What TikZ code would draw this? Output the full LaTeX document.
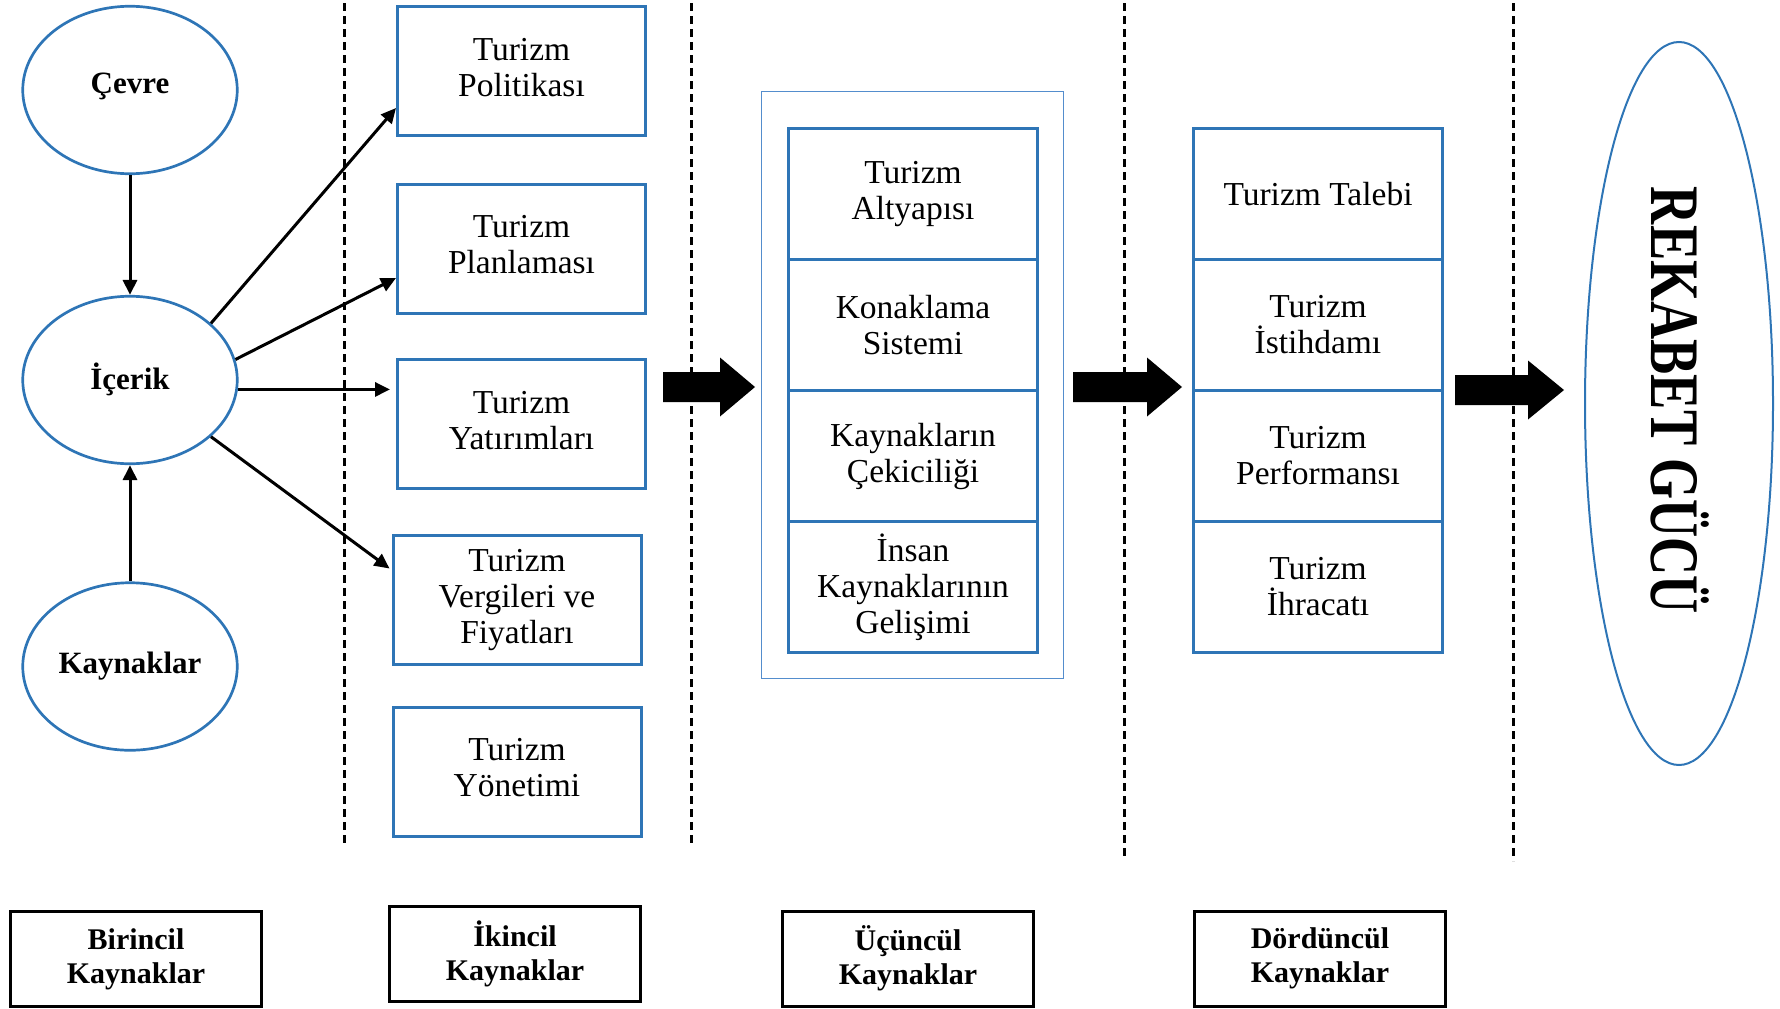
\documentclass[tikz,border=0pt]{standalone}
\usepackage{fontspec}
\usepackage{graphicx}
\setmainfont{Liberation Serif}
\usetikzlibrary{shapes.geometric,arrows.meta}
\definecolor{boxblue}{RGB}{46,117,182}
\definecolor{frameblue}{RGB}{84,141,205}
\begin{document}
\begin{tikzpicture}[x=1pt,y=-1pt,
  every node/.style={align=center, inner sep=0pt},
  txt/.style={font=\fontsize{33.5}{36}\selectfont},
  circ/.style={ellipse, draw=boxblue, line width=2.7pt, minimum width=214.5pt,
    minimum height=167.5pt, font=\fontsize{31}{34}\selectfont\bfseries},
  bluebox/.style={rectangle, draw=boxblue, line width=3pt, minimum width=248pt,
    minimum height=129pt, txt},
  cell/.style={rectangle, draw=boxblue, line width=3pt, minimum width=249.5pt,
    minimum height=131pt, txt},
  levelbox/.style={rectangle, draw=black, line width=3pt, minimum width=251pt,
    minimum height=95pt, font=\fontsize{30}{34}\selectfont\bfseries},
  sep/.style={line width=3pt, dash pattern=on 8pt off 5pt},
  link/.style={line width=3pt, -{Triangle[length=15pt,width=14pt]}},
]
\useasboundingbox (0,0) rectangle (1780,1009);

% column separators
\draw[sep] (344,3) -- (344,845);
\draw[sep] (691.5,3) -- (691.5,845);
\draw[sep] (1124.5,3) -- (1124.5,857);
\draw[sep] (1513.5,3) -- (1513.5,861);

% primary resources
\node[circ] (cevre) at (130,90) {\raisebox{14pt}{Çevre}};
\node[circ] (icerik) at (130,380) {\raisebox{8pt}{İçerik}};
\node[circ] (kay) at (130,666.5) {Kaynaklar};

% secondary resources
\node[bluebox] (pol) at (521.5,71) {\raisebox{7pt}{\begin{tabular}{@{}c@{}}Turizm\\Politikası\end{tabular}}};
\node[bluebox] (plan) at (521.5,248.5) {\raisebox{7pt}{\begin{tabular}{@{}c@{}}Turizm\\Planlaması\end{tabular}}};
\node[bluebox] (yat) at (521.5,424) {\raisebox{7pt}{\begin{tabular}{@{}c@{}}Turizm\\Yatırımları\end{tabular}}};
\node[bluebox] (verg) at (517,600) {Turizm\\Vergileri ve\\Fiyatları};
\node[bluebox] (yon) at (517,771.5) {\raisebox{8pt}{\begin{tabular}{@{}c@{}}Turizm\\Yönetimi\end{tabular}}};

% tertiary resources
\node[draw=frameblue, line width=1.3pt, minimum width=301.5pt, minimum height=587pt] (frame) at (912.5,385) {};
\node[cell] (alt) at (913,194) {Turizm\\Altyapısı};
\node[cell] (kon) at (913,325) {Konaklama\\Sistemi};
\node[cell] (cek) at (913,456) {Kaynakların\\Çekiciliği};
\node[cell] (ins) at (913,587) {İnsan\\Kaynaklarının\\Gelişimi};

% quaternary resources
\node[cell] (tal) at (1318,194) {Turizm Talebi};
\node[cell] (ist) at (1318,325) {Turizm\\İstihdamı};
\node[cell] (per) at (1318,456) {Turizm\\Performansı};
\node[cell] (ihr) at (1318,587) {Turizm\\İhracatı};

% competitiveness
\node[ellipse, draw=boxblue, line width=2pt, minimum width=188pt, minimum height=723pt] (rek) at (1679,403.5) {};
\node[rotate=-90, font=\fontsize{69.5}{70}\selectfont\bfseries] (rektext) at (1680,400.5)
  {\scalebox{0.76}[1]{REKABET GÜCÜ}};

% links between primary and secondary resources
\draw[link] (cevre) -- (icerik);
\draw[link] (kay) -- (icerik);
\draw[link] (icerik.35) -- ([yshift=-37pt]pol.west);
\draw[link] (icerik.11) -- ([yshift=-29.5pt]plan.west);
\draw[link] (icerik.-5) -- ([xshift=-6pt]icerik.-5 -| yat.west);
\draw[link] (icerik.-35) -- ([xshift=-2pt,yshift=31.5pt]verg.west);

% block arrows between stages
\fill (663,387) ++(0,-15) -- ++(57,0) -- ++(0,-14.5) -- ++(35,29.5) -- ++(-35,29.5) -- ++(0,-14.5) -- ++(-57,0) -- cycle;
\fill (1073,387) ++(0,-15) -- ++(74,0) -- ++(0,-14.5) -- ++(35,29.5) -- ++(-35,29.5) -- ++(0,-14.5) -- ++(-74,0) -- cycle;
\fill (1455,390) ++(0,-15) -- ++(73,0) -- ++(0,-14.5) -- ++(36,29.5) -- ++(-36,29.5) -- ++(0,-14.5) -- ++(-73,0) -- cycle;

% stage labels
\node[levelbox] (l1) at (136,959) {Birincil\\Kaynaklar};
\node[levelbox] (l2) at (515,954) {İkincil\\Kaynaklar};
\node[levelbox] (l3) at (908,958.5) {Üçüncül\\Kaynaklar};
\node[levelbox] (l4) at (1320,958.5) {Dördüncül\\Kaynaklar};
\end{tikzpicture}
\end{document}
